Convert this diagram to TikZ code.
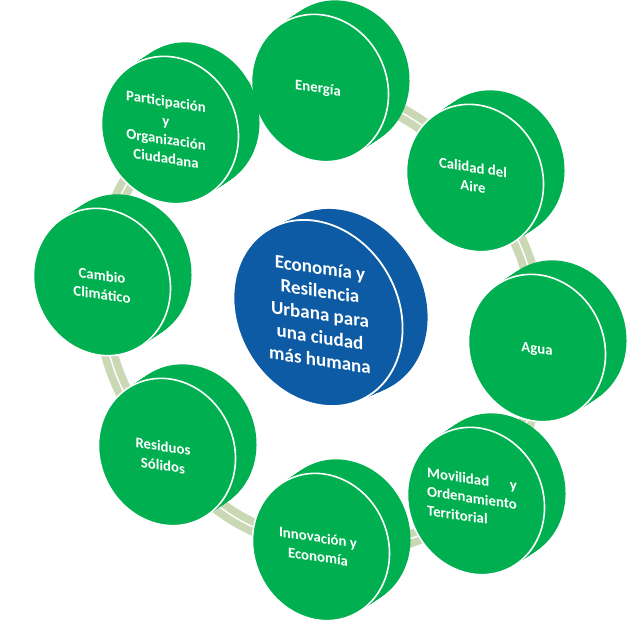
\documentclass[tikz,border=0pt]{standalone}
\usepackage{fontspec}
\usepackage{calc}
\setmainfont{Carlito}
\usetikzlibrary{shapes.geometric,backgrounds}
\definecolor{cgreen}{HTML}{00B050}
\definecolor{cblue}{HTML}{0C5BA4}
\definecolor{cbar}{HTML}{CBD8B6}
\newcommand\coinside[8]{%
  \foreach \i in {0,...,16}{%
    \fill[#3, shift={({#1+\i*(#4)/16},{#2+\i*(#5)/16})}, rotate=#8] (0,0) ellipse [x radius=#6, y radius=#7];%
  }}
\begin{document}
\begin{tikzpicture}[x=1pt,y=-1pt,
  gface/.style={ellipse, fill=cgreen, draw=white, line width=1.6pt, minimum width=134pt, minimum height=150pt, inner sep=0pt, rotate=25},
  bface/.style={ellipse, fill=cblue, draw=white, line width=1.8pt, minimum width=160pt, minimum height=194pt, inner sep=0pt, rotate=30},
  glabel/.style={text=white, font=\bfseries\fontsize{14.8}{19}\selectfont, align=center, yslant=-0.15, inner sep=0pt},
  clabel/.style={text=white, font=\bfseries\fontsize{19}{23}\selectfont, align=center, yslant=-0.15, inner sep=0pt},
  bar/.style={draw=cbar, line width=17pt},
  barline/.style={draw=white, line width=1.4pt},
]
\useasboundingbox (0,0) rectangle (644,624);

% central blue coin
\coinside{318}{313}{cblue}{25}{-11}{80}{97}{30}
\node[bface] (centro) at (318,313) {};
\node[clabel] (centroT) at (320,314) {Economía y\\Resilencia\\Urbana para\\una ciudad\\más humana};

% green coins
\coinside{320}{88}{cgreen}{21}{-14}{67}{75}{25}
\node[gface] (energia) at (320,88) {};
\node[glabel] (energiaT) at (318,89) {Energía};

\coinside{475}{178}{cgreen}{21}{-14}{67}{75}{25}
\node[gface] (calidad) at (475,178) {};
\node[glabel] (calidadT) at (473,177) {Calidad del\\Aire};

\coinside{537}{348}{cgreen}{21}{-14}{67}{75}{25}
\node[gface] (agua) at (537,348) {};
\node[glabel] (aguaT) at (537,350) {Agua};

\coinside{476}{501}{cgreen}{21}{-14}{67}{75}{25}
\node[gface] (movilidad) at (476,501) {};
\node[glabel, align=left] (movilidadT) at (472,498) {\makebox[\widthof{Ordenamiento}][l]{Movilidad\hfill y}\\Ordenamiento\\Territorial};

\coinside{321}{547}{cgreen}{21}{-14}{67}{75}{25}
\node[gface] (innovacion) at (321,547) {};
\node[glabel] (innovacionT) at (318,547) {Innovación y\\Economía};

\coinside{167}{452}{cgreen}{21}{-14}{67}{75}{25}
\node[gface] (residuos) at (167,452) {};
\node[glabel] (residuosT) at (163,456) {Residuos\\Sólidos};

\coinside{102}{282}{cgreen}{21}{-14}{67}{75}{25}
\node[gface] (cambio) at (102,282) {};
\node[glabel] (cambioT) at (102,285) {Cambio\\Climático};

\coinside{170}{130}{cgreen}{21}{-14}{67}{75}{25}
\node[gface] (participacion) at (170,130) {};
\node[glabel] (participacionT) at (166,130) {Participación\\y\\Organización\\Ciudadana};

% ring connectors
\begin{scope}[on background layer]
\foreach \a/\b in {energia/calidad, calidad/agua, agua/movilidad, movilidad/innovacion, innovacion/residuos, residuos/cambio, cambio/participacion, participacion/energia}{
  \draw[bar] (\a.center) to[bend left=22] (\b.center);
  \draw[barline] (\a.center) to[bend left=22] (\b.center);
}
\end{scope}
\end{tikzpicture}
\end{document}
